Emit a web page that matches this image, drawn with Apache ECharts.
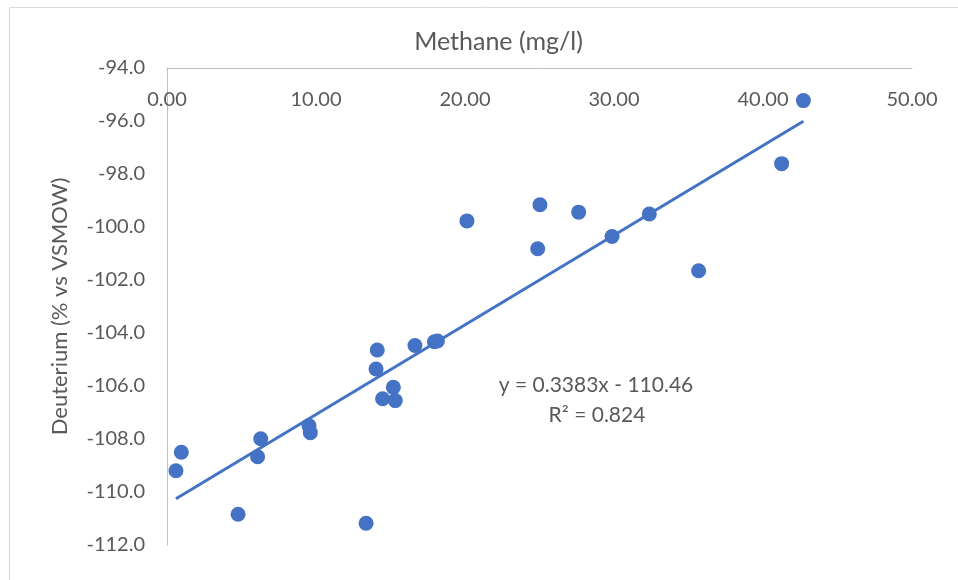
<!DOCTYPE html>
<html>
<head>
<meta charset="utf-8">
<script src="https://cdn.jsdelivr.net/npm/echarts@6/dist/echarts.min.js"></script>
<style>html,body{margin:0;padding:0;background:#fff}#c{width:958px;height:580px}</style>
</head>
<body>
<div id="c"></div>
<script>
var methane = [0.60, 0.96, 4.77, 6.08, 6.29, 9.53, 9.62, 13.36, 14.11, 14.03, 14.47, 15.19, 15.32, 16.64, 17.95, 18.15, 20.13, 24.88, 25.03, 27.63, 29.87, 32.37, 35.68, 41.25, 42.71];
var deuterium = [-109.20, -108.50, -110.84, -108.67, -107.99, -107.50, -107.76, -111.18, -104.64, -105.36, -106.48, -106.05, -106.55, -104.47, -104.33, -104.30, -99.77, -100.82, -99.16, -99.44, -100.36, -99.51, -101.65, -97.61, -95.23];
var slope = 0.3383, intercept = -110.46, r2 = 0.824;
var xTicks = [0, 10, 20, 30, 40, 50];
var yTicks = [-112, -110, -108, -106, -104, -102, -100, -98, -96, -94];

var pts = methane.map(function (x, i) { return [x, deuterium[i]]; });
var xmin = Math.min.apply(null, methane), xmax = Math.max.apply(null, methane);
var trend = [[xmin, slope * xmin + intercept], [xmax, slope * xmax + intercept]];
var FONT = 'Lato';
var chart = echarts.init(document.getElementById('c'));
chart.setOption({
  animation: false,
  textStyle: { fontFamily: FONT },
  grid: { left: 167, top: 68, right: 46, bottom: 35 },
  graphic: [
    { type: 'rect', shape: { x: 9.5, y: 7.5, width: 960, height: 600 }, style: { fill: 'none', stroke: '#d9d9d9', lineWidth: 1 }, silent: true },
    { type: 'text', x: 596, y: 385, style: { text: 'y = 0.3383x - 110.46', fill: '#595959', font: '21px ' + FONT, align: 'center', verticalAlign: 'middle' } },
    { type: 'text', x: 597, y: 415, style: { text: 'R² = 0.824', fill: '#595959', font: '21px ' + FONT, align: 'center', verticalAlign: 'middle' } }
  ],
  xAxis: {
    type: 'value', position: 'top', min: xTicks[0], max: xTicks[xTicks.length - 1], interval: 10,
    name: 'Methane (mg/l)', nameLocation: 'middle', nameGap: 14,
    nameTextStyle: { color: '#595959', fontSize: 25, fontFamily: FONT, padding: [0, 82, 0, 0] },
    axisLine: { show: true, lineStyle: { color: '#bfbfbf', width: 1 } },
    axisTick: { show: false }, splitLine: { show: false },
    axisLabel: { inside: true, margin: 22, color: '#595959', fontSize: 20, fontFamily: FONT, formatter: function (v) { return v.toFixed(2); } }
  },
  yAxis: {
    type: 'value', min: yTicks[0], max: yTicks[yTicks.length - 1], interval: 2,
    name: 'Deuterium (% vs VSMOW)', nameLocation: 'middle', nameGap: 96,
    nameTextStyle: { color: '#595959', fontSize: 22, fontFamily: FONT },
    axisLine: { show: true, lineStyle: { color: '#bfbfbf', width: 1 } },
    axisTick: { show: false }, splitLine: { show: false },
    axisLabel: { margin: 22, color: '#595959', fontSize: 20, fontFamily: FONT, formatter: function (v) { return v.toFixed(1); } }
  },
  series: [
    { type: 'line', data: trend, symbol: 'none', lineStyle: { color: '#4472C4', width: 3 }, z: 2 },
    { type: 'scatter', data: pts, symbolSize: 15, itemStyle: { color: '#4472C4', opacity: 1 }, z: 3 }
  ]
});
</script>
</body>
</html>
